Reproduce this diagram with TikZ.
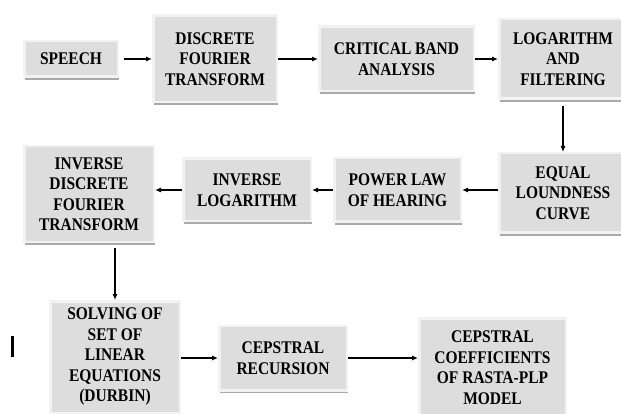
\documentclass[tikz,border=0pt]{standalone}
\usepackage{fontspec}
\setmainfont{Liberation Serif}
\newfontfamily\blockfont[FakeStretch=0.87]{Liberation Serif}
\usetikzlibrary{arrows.meta,shadows}
\definecolor{boxfill}{RGB}{221,221,221}
\definecolor{boxedge}{RGB}{242,242,242}
\definecolor{boxshade}{RGB}{170,170,170}

\begin{document}
\begin{tikzpicture}[x=1pt,y=-1pt,
      box/.style={draw=boxedge,line width=2.5pt,fill=boxfill,
                  inner sep=0pt,align=center,
                  font=\blockfont\fontsize{17.8}{20.5}\selectfont\bfseries,
                  drop shadow={shadow xshift=1pt,shadow yshift=-3pt,
                               fill=boxshade,opacity=1}},
      arr/.style={-{Latex[length=6pt,width=5pt]},line width=1.1pt}]
    \useasboundingbox (0,0) rectangle (621,414);
    \clip (0,0) rectangle (621,414);
    % top row
    \node[box,minimum width=93.5pt,minimum height=35.5pt] (speech) at (71,59)
      {SPEECH};
    \node[box,minimum width=123.5pt,minimum height=86.5pt] (dft) at (215,59)
      {DISCRETE\\FOURIER\\TRANSFORM};
    \node[box,minimum width=154.5pt,minimum height=64.5pt] (cba) at (396.5,59)
      {CRITICAL BAND\\ANALYSIS};
    \node[box,minimum width=127.5pt,minimum height=79.5pt] (logf) at (563,59)
      {LOGARITHM\\AND\\FILTERING};
    % middle row
    \node[box,minimum width=127.5pt,minimum height=79.5pt] (equal) at (563,193)
      {EQUAL\\LOUNDNESS\\CURVE};
    \node[box,minimum width=126.5pt,minimum height=63.5pt] (power) at (397.5,190)
      {POWER LAW\\OF HEARING};
    \node[box,minimum width=127.5pt,minimum height=62.5pt] (invlog) at (247,190)
      {INVERSE\\LOGARITHM};
    \node[box,minimum width=129.5pt,minimum height=95.5pt] (idft) at (89,194)
      {INVERSE\\DISCRETE\\FOURIER\\TRANSFORM};
    % bottom row
    \node[box,minimum width=129.5pt,minimum height=111.5pt] (solve) at (115,357)
      {SOLVING OF\\SET OF\\LINEAR\\EQUATIONS\\(DURBIN)};
    \node[box,minimum width=127.5pt,minimum height=64.5pt] (crec) at (283,358)
      {CEPSTRAL\\RECURSION};
    \node[box,minimum width=146.5pt,minimum height=98.5pt] (coef) at (492.5,367.5)
      {CEPSTRAL\\COEFFICIENTS\\OF RASTA-PLP\\MODEL};
    \fill (11,336) rectangle (13.5,357);
    % connectors
    \draw[arr,shorten <=5pt] (speech) -- (dft);
    \draw[arr] (dft) -- (cba);
    \draw[arr] (cba) -- (logf);
    \draw[arr,shorten <=6pt] (logf) -- (equal);
    \draw[arr] (equal.west |- power) -- (power);
    \draw[arr] (power) -- (invlog);
    \draw[arr] (invlog) -- (invlog -| idft.east);
    \draw[arr,shorten <=5pt] (idft.south -| solve) -- (solve);
    \draw[arr] (solve.east |- crec) -- (crec);
    \draw[arr] (crec) -- (crec -| coef.west);
  \end{tikzpicture}
\end{document}
